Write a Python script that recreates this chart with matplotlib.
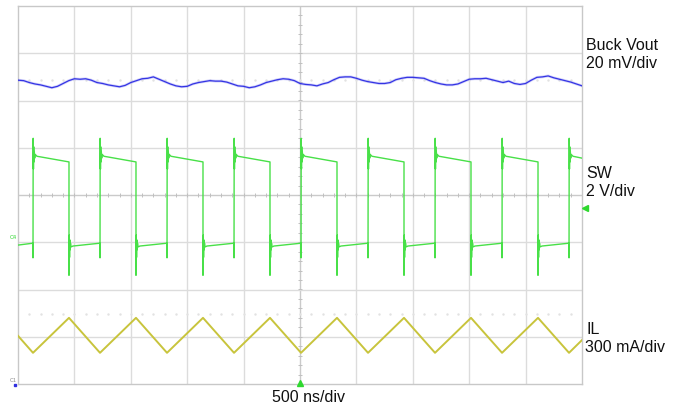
import numpy as np
import matplotlib
matplotlib.use("Agg")
import matplotlib.pyplot as plt

plt.rcParams['font.family'] = ['Liberation Sans', 'DejaVu Sans']

# ---------------- data (in screen divisions: x 0..10, y -4..4) ----------------
# Buck Vout (blue) sampled every 0.1 div
vout_t = np.linspace(0, 10, 101)
vout_v = [2.43, 2.42, 2.38, 2.35, 2.33, 2.30, 2.27, 2.30, 2.36, 2.42,
          2.46, 2.45, 2.46, 2.43, 2.38, 2.36, 2.33, 2.31, 2.29, 2.32,
          2.38, 2.42, 2.46, 2.47, 2.50, 2.45, 2.40, 2.35, 2.31, 2.29,
          2.30, 2.35, 2.38, 2.40, 2.42, 2.41, 2.41, 2.39, 2.35, 2.31,
          2.30, 2.27, 2.29, 2.33, 2.38, 2.41, 2.44, 2.46, 2.45, 2.42,
          2.36, 2.34, 2.33, 2.31, 2.35, 2.38, 2.44, 2.49, 2.50, 2.50,
          2.47, 2.43, 2.40, 2.38, 2.36, 2.36, 2.38, 2.44, 2.47, 2.49,
          2.49, 2.48, 2.47, 2.42, 2.38, 2.35, 2.33, 2.33, 2.35, 2.40,
          2.45, 2.46, 2.46, 2.47, 2.44, 2.41, 2.38, 2.41, 2.36, 2.34,
          2.36, 2.43, 2.49, 2.50, 2.52, 2.48, 2.45, 2.42, 2.39, 2.35, 2.31]

# SW node (green): edge times and levels
sw_rise = [0.266, 1.454, 2.642, 3.830, 5.018, 6.206, 7.394, 8.582, 9.770]
sw_fall = [0.904, 2.092, 3.280, 4.468, 5.656, 6.844, 8.032, 9.220]
sw_start = -1.06
sw_end = 0.78
sw_high = (0.82, 0.70)       # start / end of high plateau
sw_low = (-1.08, -1.02)      # start / end of low plateau
sw_rise_under = -1.33
sw_rise_ring = [1.20, 0.55, 1.02, 0.70, 0.92, 0.78, 0.86]
sw_fall_ring = [-1.70, -0.85, -1.32, -0.95, -1.16, -1.02, -1.10]

# Inductor current (yellow): start, valley at rises, peak at falls, end
il_start = -2.98
il_valley = -3.34
il_peak = -2.60
il_end = -3.07

ring_dt = [0.003, 0.008, 0.013, 0.018, 0.023, 0.030, 0.038]

# ---------------- build SW trace from the data ----------------
sw_t = [0.0]
sw_v = [sw_start]
for i, r in enumerate(sw_rise):
    sw_t += [r, r]
    sw_v += [sw_low[1], sw_rise_under]
    for dt, val in zip(ring_dt, sw_rise_ring):
        sw_t.append(r + dt)
        sw_v.append(val)
    sw_t.append(r + 0.07)
    sw_v.append(sw_high[0])
    if i < len(sw_fall):
        f = sw_fall[i]
        sw_t.append(f)
        sw_v.append(sw_high[1])
        for dt, val in zip(ring_dt, sw_fall_ring):
            sw_t.append(f + dt - 0.003)
            sw_v.append(val)
        sw_t.append(f + 0.07)
        sw_v.append(sw_low[0])
sw_t.append(10.0)
sw_v.append(sw_end)

il_t = [0.0]
il_v = [il_start]
for i, r in enumerate(sw_rise):
    il_t.append(r)
    il_v.append(il_valley)
    if i < len(sw_fall):
        il_t.append(sw_fall[i])
        il_v.append(il_peak)
il_t.append(10.0)
il_v.append(il_end)

# ---------------- figure ----------------
W, H = 683, 407
fig = plt.figure(figsize=(W / 100, H / 100), dpi=100)
ax = fig.add_axes([18 / W, 1 - 384 / H, 564 / W, 378 / H])
ax.set_xlim(0, 10)
ax.set_ylim(-4, 4)
ax.set_xticks([])
ax.set_yticks([])
for s in ax.spines.values():
    s.set_color('#c8c8c8')
    s.set_linewidth(1.0)

grid_c = '#dcdcdc'
for gx in range(1, 10):
    ax.axvline(gx, color=grid_c if gx != 5 else '#cacaca', lw=1.0, zorder=0)
for gy in range(-3, 4):
    ax.axhline(gy, color=grid_c if gy != 0 else '#cacaca', lw=1.0, zorder=0)

# minor ticks on center axes
mx = np.arange(0.2, 10, 0.2)
ax.plot(mx, np.zeros_like(mx), linestyle='none', marker='|', ms=3,
        mew=0.7, color='#c0c0c0', zorder=1)
my = np.arange(-3.8, 4, 0.2)
ax.plot(np.full_like(my, 5.0), my, linestyle='none', marker='_', ms=3,
        mew=0.7, color='#c0c0c0', zorder=1)

# faint dotted reference rows
dots = np.arange(0.2, 10, 0.2)
for yy in (2.43, -2.52):
    ax.plot(dots, np.full_like(dots, yy), linestyle='none', marker='s',
            ms=0.7, color='#e2e2e2', zorder=1)

# traces
ax.plot(vout_t, vout_v, color='#7070f0', lw=2.0, alpha=0.3, zorder=3)
ax.plot(vout_t, vout_v, color='#3434e4', lw=0.9, zorder=4)
ax.plot(sw_t, sw_v, color='#48e048', lw=1.0, zorder=3)
ax.plot(il_t, il_v, color='#c8c43c', lw=1.4, zorder=3)

# channel markers
ax.plot([10.05], [-0.27], marker='<', ms=4, color='#2ed82e',
        clip_on=False, zorder=5)
ax.plot([5.0], [-3.97], marker='^', ms=4, color='#2ed82e',
        clip_on=False, zorder=5)
ax.text(-0.02, -0.90, 'C4', fontsize=4, color='#2ed82e', ha='right',
        va='center', clip_on=False)
ax.text(-0.02, -3.93, 'C1', fontsize=4, color='#8a8a8a', ha='right',
        va='center', clip_on=False)
ax.plot([-0.06], [-4.02], marker='s', ms=2, color='#3030e0', clip_on=False)

# labels
fs = 11.5
def lab(px, py, s):
    fig.text(px / W, 1 - py / H, s, fontsize=fs, ha='left', va='center',
             color='#111111')

lab(586, 45, 'Buck Vout')
lab(586, 63, '20 mV/div')
lab(586, 173, 'SW')
lab(586, 192, '2 V/div')
lab(586, 330, 'IL')
lab(585, 348, '300 mA/div')
fig.text(308 / W, 1 - 398 / H, '500 ns/div', fontsize=fs, ha='center',
         va='center', color='#111111')

fig.savefig('out.png', dpi=100)
